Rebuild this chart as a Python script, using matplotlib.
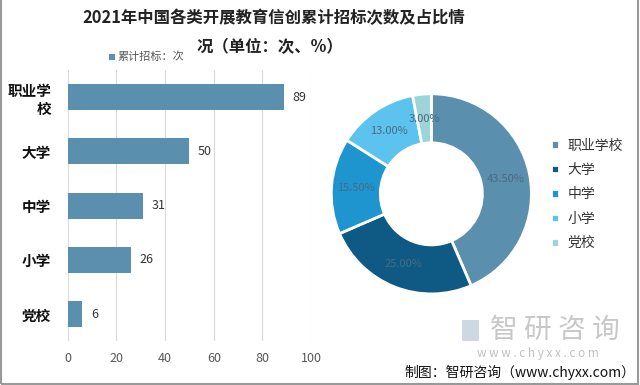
import matplotlib
matplotlib.use("Agg")
import matplotlib.pyplot as plt
from matplotlib.patches import Rectangle
import numpy as np

plt.rcParams['font.family'] = ['Noto Sans CJK SC', 'DejaVu Sans']

categories = ['职业学校', '大学', '中学', '小学', '党校']
bar_tick_labels = ['职业学\n校', '大学', '中学', '小学', '党校']
counts = [89, 50, 31, 26, 6]
shares = [43.5, 25.0, 15.5, 13.0, 3.0]
x_ticks = [0, 20, 40, 60, 80, 100]

bar_color = '#5B8FAE'
pie_colors = ['#5B8FAE', '#0F5A84', '#1E95CF', '#5CC3EE', '#9CD4DA']

fig = plt.figure(figsize=(6.4, 3.85), dpi=100)
fig.patch.set_facecolor('white')

# Title
fig.text(0.428, 0.953, '2021年中国各类开展教育信创累计招标次数及占比情', ha='center', va='center',
         fontsize=11.8, fontweight='bold', color='#222222')
fig.text(0.422, 0.877, '况（单位：次、%）', ha='center', va='center',
         fontsize=11.8, fontweight='bold', color='#222222')

# Bar chart
ax = fig.add_axes([0.106, 0.114, 0.380, 0.704])
ypos = list(range(len(categories)))
ax.barh(ypos, counts, height=0.48, color=bar_color, zorder=3)
ax.set_ylim(len(categories) - 0.5, -0.5)
ax.set_xlim(0, 100)
ax.set_xticks(x_ticks)
ax.set_xticklabels([str(t) for t in x_ticks])
ax.set_yticks(ypos)
ax.set_yticklabels(bar_tick_labels, fontsize=10.5, fontweight='bold', color='#111111',
                   linespacing=1.2)
ax.tick_params(axis='y', length=0, pad=12)
ax.tick_params(axis='x', length=0, pad=8, labelsize=9, labelcolor='#595959')
ax.grid(axis='x', color='#d9d9d9', linewidth=0.8, zorder=0)
for s in ax.spines.values():
    s.set_visible(False)
for y, v in zip(ypos, counts):
    ax.annotate(str(v), (v, y), xytext=(6, 0), textcoords='offset points',
                va='center', ha='left', fontsize=9, color='#333333')

# bar legend
fig.patches.append(Rectangle((0.170, 0.845), 0.009, 0.015, transform=fig.transFigure,
                             facecolor=bar_color, edgecolor='none'))
fig.text(0.183, 0.853, '累计招标：次', ha='left', va='center', fontsize=8, color='#595959')

# Donut
ax2 = fig.add_axes([0.516, 0.234, 0.316, 0.525])
wedges, texts = ax2.pie(shares, colors=pie_colors, startangle=90, counterclock=False,
                        wedgeprops=dict(width=0.49, edgecolor='white', linewidth=2))
for w, v in zip(wedges, shares):
    ang = np.deg2rad((w.theta1 + w.theta2) / 2)
    r = 0.755
    ax2.text(r * np.cos(ang), r * np.sin(ang), f'{v:.2f}%', ha='center', va='center',
             fontsize=8, color='#4A6A80')
ax2.set_xlim(-1.01, 1.01)
ax2.set_ylim(-1.01, 1.01)
ax2.set_aspect('equal')

leg = fig.legend(wedges, categories, loc='center left', bbox_to_anchor=(0.842, 0.495),
                 frameon=False, fontsize=10, handlelength=0.55, handleheight=0.55,
                 handletextpad=0.6, labelspacing=0.75, labelcolor='#333333')

# Watermark
fig.text(0.867, 0.143, '智 研 咨 询', ha='center', va='center', fontsize=20, color='#c8c8c8')
fig.patches.append(Rectangle((0.722, 0.115), 0.026, 0.055, transform=fig.transFigure,
                             facecolor='#b8c8d8', edgecolor='none', alpha=0.7))
fig.text(0.84, 0.083, 'w w w . c h y x x . c o m', ha='center', va='center',
         fontsize=8.5, color='#c0c0c0')
fig.text(0.993, 0.033, '制图：智研咨询（www.chyxx.com）', ha='right', va='center',
         fontsize=10, color='#111111')

# border
fig.patches.append(Rectangle((0.002, 0.003), 0.995, 1.2, transform=fig.transFigure,
                             facecolor='none', edgecolor='#999999', linewidth=1.5))

fig.savefig('out.png', dpi=100, facecolor='white')
